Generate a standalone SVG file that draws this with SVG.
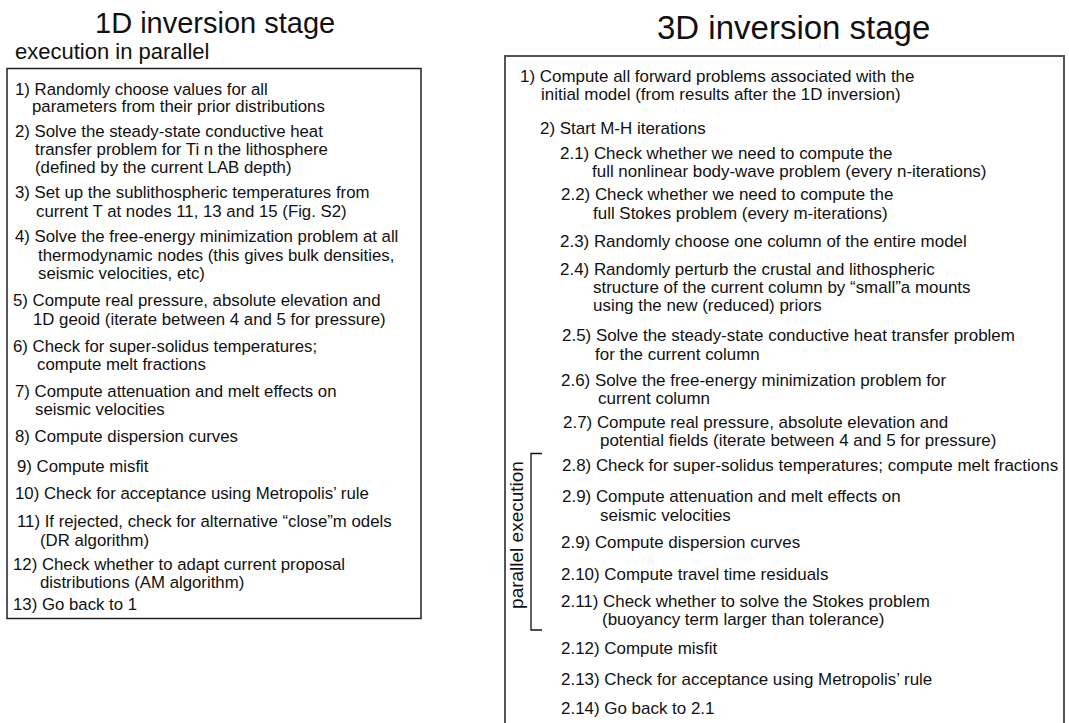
<svg xmlns="http://www.w3.org/2000/svg" width="1069" height="723" viewBox="0 0 1069 723">
<style>
text{font-family:"Liberation Sans",Arial,Helvetica,sans-serif;fill:#111}
.b{font-size:16.8px}
.r{font-size:16.95px}
.t1{font-size:29px}
.t3{font-size:33px}
.sub{font-size:22px}
.box{fill:none}
</style>
<rect width="1069" height="723" fill="#fff"/>
<g id="title-1d"><text class="t1" x="95" y="33">1D inversion stage</text></g>
<g id="subtitle-1d"><text class="sub" x="15" y="59">execution in parallel</text></g>
<g id="title-3d"><text class="t3" x="657" y="39">3D inversion stage</text></g>

<g id="box-1d"><rect class="box" x="7" y="68.5" width="414" height="550" stroke="#222" stroke-width="1.5"/></g>
<g id="box-3d"><rect class="box" x="505" y="56" width="559" height="720" stroke="#555" stroke-width="2"/></g>

<g id="s1-1"><text class="b" x="15" y="95">1) Randomly choose values for all</text><text class="b" x="32" y="112">parameters from their prior distributions</text></g>
<g id="s1-2"><text class="b" x="15" y="137">2) Solve the steady-state conductive heat</text><text class="b" x="35" y="155">transfer problem for Ti n the lithosphere</text><text class="b" x="35" y="173">(defined by the current LAB depth)</text></g>
<g id="s1-3"><text class="b" x="15" y="198">3) Set up the sublithospheric temperatures from</text><text class="b" x="36" y="217">current T at nodes 11, 13 and 15 (Fig. S2)</text></g>
<g id="s1-4"><text class="b" x="15" y="242">4) Solve the free-energy minimization problem at all</text><text class="b" x="38" y="261">thermodynamic nodes (this gives bulk densities,</text><text class="b" x="38" y="279">seismic velocities, etc)</text></g>
<g id="s1-5"><text class="b" x="13" y="306">5) Compute real pressure, absolute elevation and</text><text class="b" x="33" y="325">1D geoid (iterate between 4 and 5 for pressure)</text></g>
<g id="s1-6"><text class="b" x="13" y="352">6) Check for super-solidus temperatures;</text><text class="b" x="37" y="370">compute melt fractions</text></g>
<g id="s1-7"><text class="b" x="15" y="397">7) Compute attenuation and melt effects on</text><text class="b" x="35" y="415">seismic velocities</text></g>
<g id="s1-8"><text class="b" x="15" y="442">8) Compute dispersion curves</text></g>
<g id="s1-9"><text class="b" x="17" y="472">9) Compute misfit</text></g>
<g id="s1-10"><text class="b" x="15" y="499">10) Check for acceptance using Metropolis’ rule</text></g>
<g id="s1-11"><text class="b" x="17" y="527">11) If rejected, check for alternative “close”m odels</text><text class="b" x="40" y="546">(DR algorithm)</text></g>
<g id="s1-12"><text class="b" x="13" y="570">12) Check whether to adapt current proposal</text><text class="b" x="40" y="588">distributions (AM algorithm)</text></g>
<g id="s1-13"><text class="b" x="13" y="610">13) Go back to 1</text></g>

<g id="s3-1"><text class="r" x="520" y="82">1) Compute all forward problems associated with the</text><text class="r" x="541" y="100">initial model (from results after the 1D inversion)</text></g>
<g id="s3-2"><text class="r" x="540" y="134">2) Start M-H iterations</text></g>
<g id="s3-2-1"><text class="r" x="560" y="159">2.1) Check whether we need to compute the</text><text class="r" x="592" y="177">full nonlinear body-wave problem (every n-iterations)</text></g>
<g id="s3-2-2"><text class="r" x="561" y="200">2.2) Check whether we need to compute the</text><text class="r" x="593" y="219">full Stokes problem (every m-iterations)</text></g>
<g id="s3-2-3"><text class="r" x="560" y="247">2.3) Randomly choose one column of the entire model</text></g>
<g id="s3-2-4"><text class="r" x="560" y="275">2.4) Randomly perturb the crustal and lithospheric</text><text class="r" x="593" y="293">structure of the current column by “small”a mounts</text><text class="r" x="593" y="311">using the new (reduced) priors</text></g>
<g id="s3-2-5"><text class="r" x="562" y="341">2.5) Solve the steady-state conductive heat transfer problem</text><text class="r" x="595" y="360">for the current column</text></g>
<g id="s3-2-6"><text class="r" x="561" y="386">2.6) Solve the free-energy minimization problem for</text><text class="r" x="598" y="404">current column</text></g>
<g id="s3-2-7"><text class="r" x="563" y="428">2.7) Compute real pressure, absolute elevation and</text><text class="r" x="600" y="446">potential fields (iterate between 4 and 5 for pressure)</text></g>
<g id="s3-2-8"><text class="r" x="562" y="471">2.8) Check for super-solidus temperatures; compute melt fractions</text></g>
<g id="s3-2-9a"><text class="r" x="562" y="502">2.9) Compute attenuation and melt effects on</text><text class="r" x="600" y="521">seismic velocities</text></g>
<g id="s3-2-9b"><text class="r" x="561" y="548">2.9) Compute dispersion curves</text></g>
<g id="s3-2-10"><text class="r" x="561" y="580">2.10) Compute travel time residuals</text></g>
<g id="s3-2-11"><text class="r" x="561" y="607">2.11) Check whether to solve the Stokes problem</text><text class="r" x="602" y="625">(buoyancy term larger than tolerance)</text></g>
<g id="s3-2-12"><text class="r" x="561" y="654">2.12) Compute misfit</text></g>
<g id="s3-2-13"><text class="r" x="561" y="685">2.13) Check for acceptance using Metropolis’ rule</text></g>
<g id="s3-2-14"><text class="r" x="561" y="714">2.14) Go back to 2.1</text></g>

<g id="connectors">
<path d="M542,453.5 H531 V630 H542" fill="none" stroke="#111" stroke-width="1.3"/>
</g>
<g id="parallel-label"><text x="523" y="535" font-size="19" text-anchor="middle" transform="rotate(-90 523 535)">parallel execution</text></g>
</svg>
